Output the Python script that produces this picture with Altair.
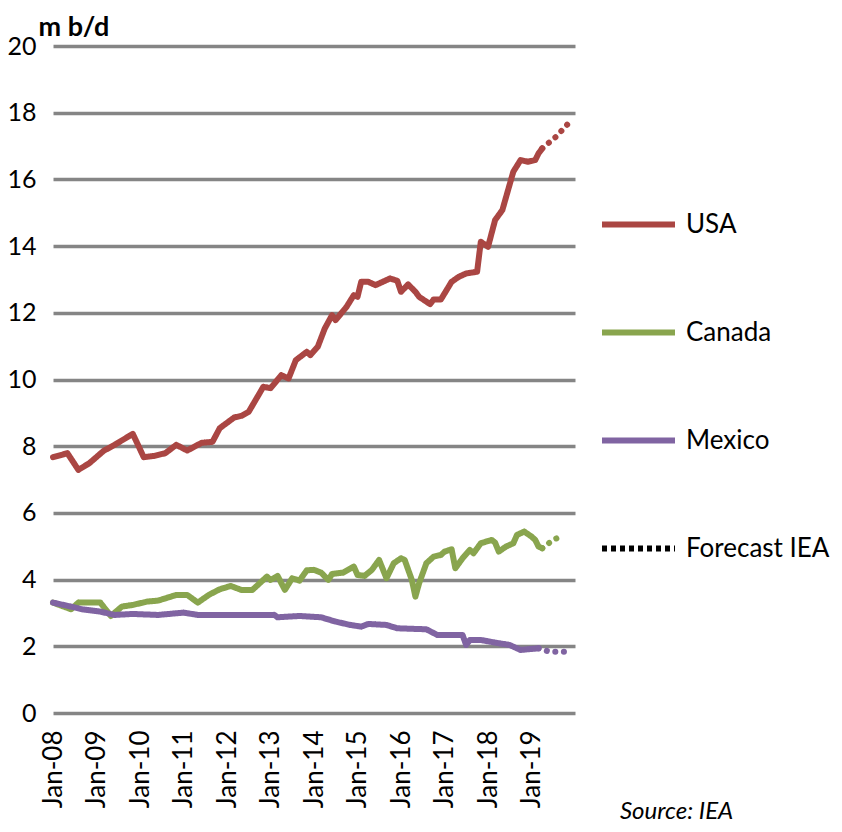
import altair as alt
import pandas as pd

# months counted from Jan-2008 (0 = Jan-08)
usa_m = [0, 4, 7, 10, 14, 17, 22, 25, 28, 31, 34, 37, 41, 44, 46, 50, 52, 54, 58, 60,
         63, 65, 67, 70, 71, 73, 75, 77, 78, 81, 83, 84, 85, 87, 89, 93, 95, 96, 98, 100,
         101, 104, 105, 107, 110, 112, 114, 117, 118, 120, 122, 124, 127, 129, 131, 133, 134, 135]
usa_v = [7.67, 7.79, 7.29, 7.49, 7.86, 8.04, 8.37, 7.67, 7.71, 7.79, 8.04, 7.87, 8.10, 8.13, 8.54, 8.86, 8.91, 9.03, 9.78, 9.74,
         10.13, 10.03, 10.58, 10.83, 10.73, 10.98, 11.53, 11.93, 11.78, 12.18, 12.53, 12.48, 12.93, 12.93, 12.83, 13.03, 12.96, 12.63, 12.85, 12.63,
         12.48, 12.26, 12.40, 12.40, 12.93, 13.08, 13.18, 13.23, 14.13, 13.98, 14.78, 15.08, 16.23, 16.58, 16.53, 16.58, 16.78, 16.93]

can_m = [0, 5, 7, 13, 16, 19, 22, 26, 29, 34, 37, 40, 43, 46, 49, 52, 55, 57, 59, 60,
         62, 64, 66, 68, 70, 72, 74, 76, 77, 80, 83, 84, 86, 88, 90, 92, 94, 96, 97, 99,
         100, 101, 103, 105, 107, 108, 110, 111, 113, 115, 116, 118, 121, 122, 123, 125, 127, 128, 130, 132,
         133, 134, 135]
can_v = [3.31, 3.11, 3.31, 3.31, 2.91, 3.19, 3.24, 3.34, 3.37, 3.54, 3.54, 3.31, 3.54, 3.71, 3.81, 3.69, 3.69, 3.89, 4.09, 3.99,
         4.11, 3.69, 4.04, 3.97, 4.28, 4.29, 4.21, 3.99, 4.17, 4.21, 4.39, 4.14, 4.11, 4.29, 4.59, 4.04, 4.49, 4.64, 4.59, 3.99,
         3.49, 3.89, 4.49, 4.69, 4.74, 4.84, 4.91, 4.34, 4.64, 4.89, 4.79, 5.09, 5.19, 5.11, 4.84, 4.99, 5.09, 5.34, 5.44, 5.29,
         5.19, 4.99, 4.94]

mex_m = [0, 5, 8, 13, 17, 22, 29, 36, 40, 49, 61, 62, 68, 74, 78, 82, 85, 87, 92, 95,
         103, 106, 113, 114, 115, 118, 122, 126, 129, 134]
mex_v = [3.31, 3.19, 3.11, 3.04, 2.94, 2.97, 2.94, 3.01, 2.94, 2.94, 2.94, 2.87, 2.91, 2.87, 2.74, 2.64, 2.59, 2.67, 2.64, 2.54,
         2.51, 2.34, 2.34, 2.04, 2.19, 2.19, 2.11, 2.04, 1.89, 1.94]

# IEA forecast
usa_fm = [135, 139, 142]
usa_fv = [16.93, 17.30, 17.66]
can_fm = [135, 138, 141]
can_fv = [4.94, 5.19, 5.34]
mex_fm = [134, 137, 141]
mex_fv = [1.94, 1.84, 1.84]

series = ["USA", "Canada", "Mexico", "Forecast IEA"]
colors = ["#AA4643", "#89A54E", "#8064A2", "#000000"]
year_ticks = list(range(2008, 2020))
FONT = "Lato"


def to_date(m):
    return f"{2008 + m // 12}/{m % 12 + 1:02d}/01"


def frame(months, vals, name):
    return pd.DataFrame({"date": [to_date(m) for m in months], "value": vals, "series": name})


actual = pd.concat([frame(usa_m, usa_v, "USA"), frame(can_m, can_v, "Canada"),
                    frame(mex_m, mex_v, "Mexico")])
forecast = pd.concat([frame(usa_fm, usa_fv, "USA"), frame(can_fm, can_fv, "Canada"),
                      frame(mex_fm, mex_fv, "Mexico")])

x_enc = alt.X(
    "date:T",
    scale=alt.Scale(domain=[alt.DateTime(year=2008, month=1, date=1),
                            alt.DateTime(year=2020, month=1, date=1)]),
    axis=alt.Axis(
        title=None, format="%b-%y", grid=False, ticks=False, domain=False,
        values=[alt.DateTime(year=y, month=1, date=1) for y in year_ticks],
        labelAngle=-90, labelFontSize=26, labelFont=FONT, labelColor="#000000",
        labelPadding=17, labelOverlap=False,
    ),
)
y_enc = alt.Y(
    "value:Q",
    scale=alt.Scale(domain=[0, 20], nice=False),
    axis=alt.Axis(
        title="m b/d", titleAngle=0, titleAlign="left", titleBaseline="alphabetic",
        titleX=-15, titleY=-11, titleFont=FONT, titleFontSize=27, titleFontWeight="bold",
        titleColor="#000000",
        values=list(range(0, 21, 2)), ticks=False, domain=False,
        labelFontSize=25, labelFont=FONT, labelColor="#000000", labelPadding=17,
        gridColor="#858585", gridWidth=3.5, gridOpacity=1,
    ),
)
legend = alt.Legend(title=None)
color_enc = alt.Color("series:N", scale=alt.Scale(domain=series, range=colors), legend=legend)
dash_enc = alt.StrokeDash(
    "series:N",
    scale=alt.Scale(domain=series, range=[[1, 0], [1, 0], [1, 0], [5, 4]]),
    legend=legend,
)

lines = alt.Chart(actual).mark_line(strokeWidth=6, strokeJoin="round", strokeCap="round").encode(
    x=x_enc, y=y_enc, color=color_enc, strokeDash=dash_enc, detail="series:N"
)
fc = alt.Chart(forecast).mark_line(strokeWidth=6, strokeCap="round", strokeDash=[0.1, 8.5]).encode(
    x="date:T", y="value:Q", color=alt.Color("series:N", scale=alt.Scale(domain=series, range=colors)),
    detail="series:N"
)
src = alt.Chart(pd.DataFrame({"t": ["Source: IEA"]})).mark_text(
    align="left", baseline="middle", font=FONT, fontSize=24, fontStyle="italic", color="#000000"
).encode(x=alt.value(567), y=alt.value(766), text="t:N")

chart = alt.layer(lines, fc, src).properties(
    width=522, height=667,
    autosize=alt.AutoSizeParams(type="none"),
    padding={"left": 45, "top": 38, "right": 259, "bottom": 111},
).configure_view(stroke=None).configure_legend(
    orient="none", legendX=546, legendY=139, symbolType="stroke", symbolSize=5329,
    symbolStrokeWidth=6, labelFontSize=26, labelFont=FONT, labelColor="#000000",
    rowPadding=55, labelOffset=8, padding=0,
)

chart.save("out.html", embed_options={"renderer": "svg", "actions": False})
